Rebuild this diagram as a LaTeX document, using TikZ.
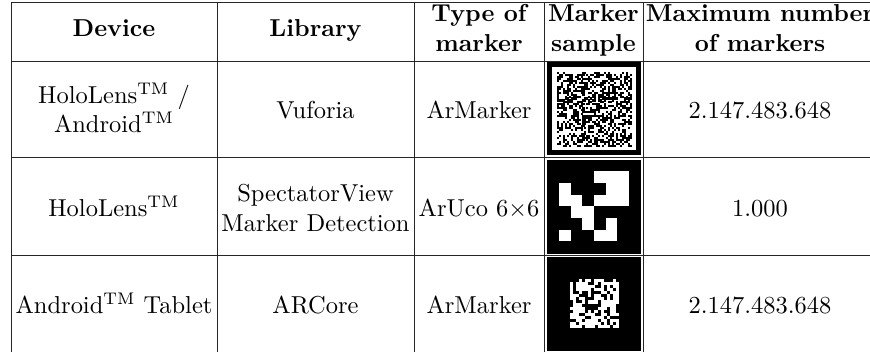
\documentclass[tikz,border=0pt]{standalone}
\newcommand{\twoline}[2]{\begin{tabular}[t]{@{}c@{}}#1\\#2\end{tabular}}
\newcommand{\tmk}{$^{\mathrm{TM}}$}
\tikzset{
  rule/.style={draw=black!85, line width=0.4pt},
  cell/.style={inner sep=0pt, outer sep=0pt, anchor=base, font=\fontsize{10.2}{12.24}\selectfont},
  head/.style={cell, font=\fontsize{10.2}{12.24}\selectfont\bfseries},
  mod/.style={fill=black, draw=none},
  wmod/.style={fill=white, draw=none},
}
\begin{document}
\begin{tikzpicture}[x=0.416667pt, y=-0.416667pt]
\useasboundingbox (0,0) rectangle (870,351);
% table rules
\foreach \yy in {2,61,157,255} \draw[rule] (11,\yy) -- (875,\yy);
\foreach \xx in {11,217,414,544,643} \draw[rule] (\xx,2) -- (\xx,356);
% header
\node[head] (hdev) at (114,36.5) {Device};
\node[head] (hlib) at (315.5,36.5) {Library};
\node[head] (htype) at (479,21.8) {\twoline{Type of}{marker}};
\node[head] (hsample) at (593.5,21.8) {\twoline{Marker}{sample}};
\node[head] (hmax) at (760,21.8) {\twoline{Maximum number}{of markers}};
% row 1
\node[cell] (d1) at (114,103.3) {\twoline{HoloLens\tmk{} /}{Android\tmk}};
\node[cell] (l1) at (315.5,118) {Vuforia};
\node[cell] (t1) at (479,118) {ArMarker};
\node[cell] (n1) at (760,118) {2.147.483.648};
% row 2
\node[cell] (d2) at (114,216.5) {HoloLens\tmk};
\node[cell] (l2) at (315.5,201.8) {\twoline{SpectatorView}{Marker Detection}};
\node[cell] (t2) at (479,216.5) {ArUco 6$\times$6};
\node[cell] (n2) at (760,216.5) {1.000};
% row 3
\node[cell] (d3) at (114,313) {Android\tmk{} Tablet};
\node[cell] (l3) at (315.5,313) {ARCore};
\node[cell] (t3) at (479,313) {ArMarker};
\node[cell] (n3) at (760,313) {2.147.483.648};
% marker 1 (ArMarker, framed)
\fill[black] (547.3,62) rectangle (641,155);
\fill[white] (552.3,67) rectangle (636,150);
\pgfmathsetseed{4242}
\foreach \i in {0,...,37}{\foreach \j in {0,...,37}{%
  \pgfmathtruncatemacro\bit{rnd<0.5}%
  \ifnum\bit=1 \fill[mod] (557+\i*1.96,72+\j*1.96) rectangle ++(2.05,2.05);\fi}}
% marker 2 (ArUco 6x6)
\fill[black] (547.3,159.7) rectangle (640.7,253.7);
\foreach \c/\r in {3/0,4/0,5/0,0/1,4/1,5/1,0/2,1/2,3/2,4/2,5/2,1/3,2/3,2/4,4/4,0/5,3/5,4/5}
  \fill[wmod] (547.3+\c*11.675+11.675,159.7+\r*11.675+11.675) rectangle ++(11.675,11.675);
% marker 3 (ArMarker, black)
\fill[black] (547.3,257) rectangle (641,351);
\pgfmathsetseed{777}
\foreach \i in {0,...,15}{\foreach \j in {0,...,15}{%
  \pgfmathtruncatemacro\bit{rnd<0.62}%
  \ifnum\bit=1 \fill[wmod] (570+\i*3.06,279+\j*3.06) rectangle ++(3.1,3.1);\fi}}
\end{tikzpicture}
\end{document}
